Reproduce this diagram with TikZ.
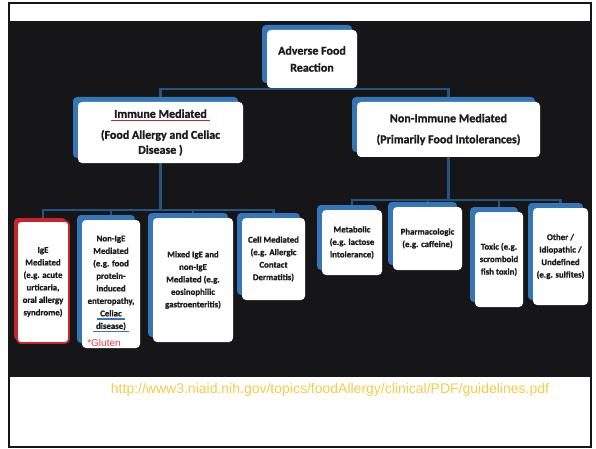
\documentclass[tikz,border=0pt]{standalone}
\usepackage{fontspec}
\setmainfont{Carlito}[BoldFeatures={FakeBold=1.2}]
\newfontfamily\urlfont{Liberation Sans}
\usepackage{xcolor}
\usetikzlibrary{shadows}
\definecolor{slideblack}{RGB}{22, 22, 24}
\definecolor{cardblue}{RGB}{52, 118, 184}
\definecolor{busblue}{RGB}{36, 84, 128}
\definecolor{cardred}{RGB}{200, 36, 44}
\definecolor{glutenred}{RGB}{226, 64, 64}
\definecolor{inkgray}{RGB}{28, 28, 30}
\definecolor{urlyellow}{RGB}{246, 204, 72}
\newcommand{\ulcolor}[2]{\setbox0\hbox{#2}\rlap{\kern-3pt\textcolor{#1}{\rule[-3.4pt]{\dimexpr\wd0+6pt\relax}{1.5pt}}}\box0}
\pgfdeclarelayer{backdrop}
\pgfdeclarelayer{wires}
\pgfsetlayers{backdrop,wires,main}

\begin{document}
\begin{tikzpicture}[x=1pt, y=-1pt,
    cardbase/.style={fill=white, rounded corners=4pt, align=center, text=inkgray,
      inner sep=2pt, font=\bfseries\fontsize{8.8}{12.5}\selectfont},
    card/.style={cardbase, copy shadow={shadow xshift=-5pt, shadow yshift=5pt, fill=cardblue, draw=none}},
    redcard/.style={cardbase, draw=cardred, line width=1.8pt,
      copy shadow={shadow xshift=-3pt, shadow yshift=3pt, fill=cardred, draw=none}},
    bigcard/.style={card, font=\bfseries\fontsize{12}{15}\selectfont},
    bus/.style={busblue, line width=2.6pt}]
    \useasboundingbox (0,0) rectangle (596,449);

    % 幻灯片底色
    \begin{pgfonlayer}{backdrop}
        \fill[white] (0,0) rectangle (596,449);
        \draw[slideblack, line width=2pt] (9,3) rectangle (591,447);
        \fill[slideblack] (8,21) rectangle (591,377);
    \end{pgfonlayer}

    % 第一、二层
    \node[bigcard, minimum width=90pt, minimum height=58pt] (adverse) at (312,59) {Adverse Food\\[2pt]Reaction};
    \node[bigcard, minimum width=165pt, minimum height=61pt] (immune) at (160.5,132.5)
        {\ulcolor{cardred}{Immune Mediated}\\[6pt](Food Allergy and Celiac\\Disease )};
    \node[bigcard, minimum width=183pt, minimum height=55pt] (nonimm) at (448.5,129.5)
        {Non-Immune Mediated\\[6pt](Primarily Food Intolerances)};

    % 免疫介导
    \node[redcard, minimum width=52pt, minimum height=122pt] (ige) at (43,282)
        {IgE\\Mediated\\(e.g. acute\\urticaria,\\oral allergy\\syndrome)};
    \node[card, minimum width=58pt, minimum height=128pt] (nonige) at (111,284)
        {Non-IgE\\Mediated\\(e.g. food\\protein-\\induced\\enteropathy,\\\ulcolor{cardblue}{Celiac}\\\ulcolor{cardblue}{disease)}};
    \node[font=\urlfont\fontsize{10}{11}\selectfont, text=glutenred] (gluten) at (104,343) {*Gluten};
    \node[card, minimum width=80pt, minimum height=124pt] (mixed) at (193,280)
        {Mixed IgE and\\non-IgE\\Mediated (e.g.\\eosinophilic\\gastroenteritis)};
    \node[card, minimum width=63pt, minimum height=82pt] (cell) at (273.5,259)
        {Cell Mediated\\(e.g. Allergic\\Contact\\Dermatitis)};

    % 非免疫介导
    \node[card, minimum width=60pt, minimum height=65pt] (metab) at (352,242.5)
        {Metabolic\\(e.g. lactose\\intolerance)};
    \node[card, minimum width=69pt, minimum height=63pt] (pharma) at (427.5,238.5)
        {Pharmacologic\\(e.g. caffeine)};
    \node[card, minimum width=48pt, minimum height=95pt] (toxic) at (499,259.5)
        {Toxic (e.g.\\scromboid\\fish toxin)};
    \node[card, minimum width=55pt, minimum height=97pt] (other) at (560.5,256.5)
        {Other /\\Idiopathic /\\Undefined\\(e.g. sulfites)};

    % 连线
    \coordinate (topbus) at (312,89);
    \coordinate (immbus) at (157,210);
    \coordinate (nonbus) at (447,200);
    \begin{pgfonlayer}{wires}
        \draw[bus] (adverse.south) -- (topbus);
        \draw[bus] (immune.north) |- (topbus) -| (nonimm.north);
        \draw[bus] (immune.south) -- (immune.south |- immbus);
        \draw[bus] (ige.north) |- (immbus) -| (cell.north);
        \draw[bus] (nonige.north) -- (nonige.north |- immbus);
        \draw[bus] (mixed.north) -- (mixed.north |- immbus);
        \draw[bus] (nonimm.south) -- (nonimm.south |- nonbus);
        \draw[bus] (metab.north) |- (nonbus) -| (other.north);
        \draw[bus] (pharma.north) -- (pharma.north |- nonbus);
        \draw[bus] (toxic.north) -- (toxic.north |- nonbus);
    \end{pgfonlayer}

    % 出处
    \node[font=\urlfont\fontsize{14}{16}\selectfont, text=urlyellow] (source) at (330,390)
        {http://www3.niaid.nih.gov/topics/foodAllergy/clinical/PDF/guidelines.pdf};
\end{tikzpicture}
\end{document}
